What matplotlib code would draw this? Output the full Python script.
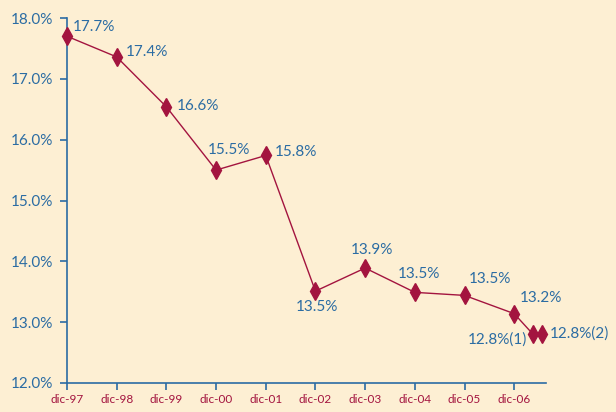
import matplotlib
matplotlib.use("Agg")
import matplotlib.pyplot as plt

categories = ["dic-97", "dic-98", "dic-99", "dic-00", "dic-01", "dic-02",
              "dic-03", "dic-04", "dic-05", "dic-06"]
x_pos = [0, 1, 2, 3, 4, 5, 6, 7, 8, 9, 9.38, 9.55]
values = [17.70, 17.36, 16.54, 15.50, 15.74, 13.51, 13.89, 13.49, 13.44, 13.14, 12.80, 12.80]
labels = ["17.7%", "17.4%", "16.6%", "15.5%", "15.8%", "13.5%", "13.9%",
          "13.5%", "13.5%", "13.2%", "12.8%(1)", "12.8%(2)"]
yticks = [12, 13, 14, 15, 16, 17, 18]

# label offsets in pixels (dx, dy, ha, va)
offsets = [(6, 9, "left", "center"), (9, 5, "left", "center"), (10, 1, "left", "center"),
           (13, 13, "center", "bottom"), (9, 3, "left", "center"), (2, -9, "center", "top"),
           (7, 11, "center", "bottom"), (4, 11, "center", "bottom"), (4, 9, "left", "bottom"),
           (6, 9, "left", "bottom"), (-6, -5, "right", "center"), (8, 1, "left", "center")]

bg = "#fdefd3"
blue = "#2b6ca3"
red = "#a3143f"

plt.rcParams['font.family'] = ['Lato', 'DejaVu Sans']
fig = plt.figure(figsize=(6.16, 4.12), dpi=100, facecolor=bg)
ax = fig.add_axes([67/616, 1-383/412, (546-67)/616, (383-18)/412])
ax.set_facecolor(bg)

ax.plot(x_pos, values, color=red, lw=1.0, marker="d", markersize=9,
        markerfacecolor=red, markeredgecolor=red, zorder=3, clip_on=False)

px = 72 / 100
for xp, v, lab, (dx, dy, ha, va) in zip(x_pos, values, labels, offsets):
    ax.annotate(lab, (xp, v), xytext=(dx * px, dy * px), textcoords="offset points",
                ha=ha, va=va, color=blue, fontsize=11)

ax.set_xlim(0, 9.64)
ax.set_ylim(12, 18)
ax.set_yticks(yticks)
ax.set_yticklabels([f"{t:.1f}%" for t in yticks], color=blue, fontsize=11)
ax.set_xticks(range(len(categories)))
ax.set_xticklabels(categories, color=red, fontsize=8.5)

for s in ["top", "right"]:
    ax.spines[s].set_visible(False)
for s in ["left", "bottom"]:
    ax.spines[s].set_color(blue)
    ax.spines[s].set_linewidth(1.2)
ax.tick_params(axis="both", colors=blue, length=5, width=1.2)
ax.tick_params(axis="y", labelcolor=blue, pad=5)
ax.tick_params(axis="x", labelcolor=red, pad=3)

fig.savefig("out.png", dpi=100, facecolor=bg)
